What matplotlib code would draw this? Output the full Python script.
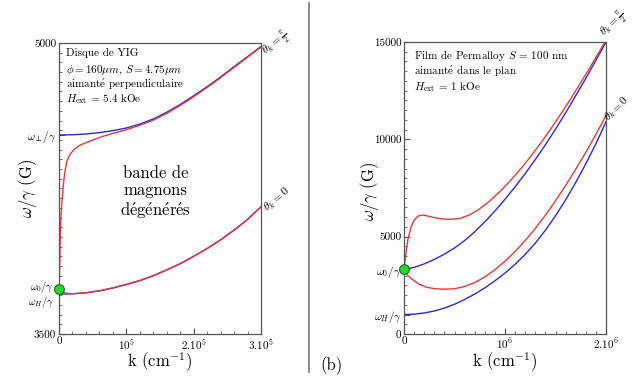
import numpy as np
import matplotlib
matplotlib.use("Agg")
import matplotlib.pyplot as plt
from matplotlib.ticker import MultipleLocator
from matplotlib.lines import Line2D

plt.rcParams.update({'font.family': ['cmr10', 'DejaVu Serif'],
                     'mathtext.fontset': 'cm',
                     'axes.unicode_minus': False,
                     'axes.linewidth': 0.9,
                     'axes.edgecolor': '#555555'})

BLUE = '#2a2ad0'
RED = '#e03a3a'
E = r'$\mathrm{\acute{e}}$'  # e accent aigu in Computer Modern

# ------------------------------
# (a) YIG disk, k in units of 1e5 cm^-1, omega/gamma in G
# ------------------------------
yig_w0 = 3732
yig_wH = 3706
yig_wperp = 4526

yig_k_low_blue = [0, 0.2, 0.4, 0.6, 0.8, 1.0, 1.2, 1.4, 1.6, 1.8, 2.0, 2.2, 2.4, 2.6, 2.8, 3.0]
yig_low_blue = [3706, 3707, 3712, 3722, 3737, 3755, 3775, 3800, 3830, 3862, 3900, 3940, 3985, 4035, 4090, 4155]
yig_k_low_red = [0, 0.03, 0.08, 0.15, 0.2, 0.4, 0.6, 0.8, 1.0, 1.2, 1.4, 1.6, 1.8, 2.0, 2.2, 2.4, 2.6, 2.8, 3.0]
yig_low_red = [3732, 3720, 3712, 3709, 3708, 3713, 3723, 3738, 3756, 3776, 3801, 3831, 3863, 3901, 3941, 3986, 4036, 4091, 4156]

yig_k_up_blue = [0, 0.2, 0.4, 0.6, 0.8, 1.0, 1.2, 1.4, 1.6, 1.8, 2.0, 2.2, 2.4, 2.6, 2.8, 3.0]
yig_up_blue = [4526, 4527, 4531, 4538, 4548, 4562, 4582, 4608, 4643, 4683, 4728, 4775, 4825, 4878, 4930, 4982]
yig_k_up_red = [0, 0.005, 0.01, 0.015, 0.02, 0.03, 0.045, 0.064, 0.085, 0.114, 0.16, 0.24,
                0.33, 0.435, 0.634, 0.83, 1.0, 1.2, 1.4, 1.6, 1.8, 2.0, 2.2, 2.4, 2.6, 2.8, 3.0]
yig_up_red = [3732, 3780, 3850, 3950, 4030, 4110, 4190, 4268, 4330, 4388, 4425, 4457,
              4476, 4491, 4517, 4537, 4553, 4576, 4602, 4637, 4678, 4723, 4771, 4821, 4874, 4927, 4979]

# ------------------------------
# (b) Permalloy film, k in units of 1e6 cm^-1
# ------------------------------
py_w0 = 3324
py_wH = 1000

py_k_up_blue = [0, 0.1, 0.2, 0.3, 0.4, 0.5, 0.6, 0.7, 0.8, 0.9, 1.0, 1.1, 1.2, 1.3, 1.4, 1.5, 1.6, 1.7, 1.8, 1.9, 2.0]
py_up_blue = [3324, 3420, 3600, 3830, 4100, 4420, 4800, 5250, 5760, 6320, 6920, 7560, 8240, 8960, 9720,
              10520, 11360, 12240, 13130, 14060, 15000]
py_k_up_red = [0, 0.02, 0.04, 0.07, 0.1, 0.14, 0.18, 0.22, 0.3, 0.38, 0.455, 0.55, 0.65, 0.75, 0.85, 0.95,
               1.05, 1.15, 1.25, 1.35, 1.45, 1.55, 1.65, 1.75, 1.85, 1.95, 2.0]
py_up_red = [3324, 4200, 4900, 5500, 5850, 6060, 6110, 6080, 5980, 5910, 5890, 5930, 6120, 6430, 6840, 7320,
             7860, 8450, 9090, 9780, 10510, 11280, 12080, 12910, 13770, 14650, 15100]

py_k_low_blue = [0, 0.1, 0.2, 0.3, 0.4, 0.5, 0.6, 0.7, 0.8, 0.9, 1.0, 1.1, 1.2, 1.3, 1.4, 1.5, 1.6, 1.7, 1.8, 1.9, 2.0]
py_low_blue = [1000, 1020, 1080, 1180, 1330, 1530, 1770, 2050, 2370, 2730, 3130, 3580, 4090, 4670, 5330,
               6070, 6890, 7780, 8740, 9770, 10900]
py_k_low_red = [0, 0.03, 0.06, 0.092, 0.15, 0.225, 0.3, 0.39, 0.5, 0.6, 0.7, 0.8, 0.9, 1.0, 1.1,
                1.2, 1.3, 1.4, 1.5, 1.6, 1.7, 1.8, 1.9, 2.0]
py_low_red = [3324, 3050, 2900, 2774, 2560, 2400, 2330, 2300, 2325, 2440, 2640, 2930, 3300, 3740, 4240,
              4800, 5420, 6100, 6840, 7630, 8460, 9330, 10250, 11230]

fig = plt.figure(figsize=(6.34, 3.82), dpi=100)
axa = fig.add_axes([59 / 634, 1 - 334 / 382, 202 / 634, 291 / 382])
axb = fig.add_axes([404 / 634, 1 - 334 / 382, 202 / 634, 292 / 382])

for ax in (axa, axb):
    ax.tick_params(which='both', direction='in', top=False, right=False, labelsize=8,
                   color='#555555', pad=2)
    ax.tick_params(which='major', length=4)
    ax.tick_params(which='minor', length=2)

theta_kw = dict(fontsize=8.5, ha='left', va='baseline', rotation_mode='anchor', clip_on=False)

# ------------------------------
# panel (a)
# ------------------------------
axa.plot(yig_k_low_blue, yig_low_blue, color=BLUE, lw=1)
axa.plot(yig_k_low_red, yig_low_red, color=RED, lw=1)
axa.plot(yig_k_up_blue, yig_up_blue, color=BLUE, lw=1)
axa.plot(yig_k_up_red, yig_up_red, color=RED, lw=1)
axa.plot([0], [yig_w0], 'o', ms=7, mfc='#22dd22', mec='#226622', mew=0.8, clip_on=False, zorder=5)
axa.set_xlim(0, 3)
axa.set_ylim(3500, 5000)
axa.set_xticks([0, 1, 2, 3])
axa.set_xticklabels(['0', r'10$^5$', r'2.10$^5$', r'3.10$^5$'])
axa.set_yticks([3500, yig_wperp, 5000])
axa.set_yticklabels(['3500', r'$\omega_\perp/\gamma$', '5000'])
axa.xaxis.set_minor_locator(MultipleLocator(0.2))
axa.yaxis.set_minor_locator(MultipleLocator(50))
axa.text(-0.08, yig_w0 + 12, r'$\omega_0/\gamma$', ha='right', va='center', fontsize=7.5)
axa.text(-0.08, yig_wH - 42, r'$\omega_H/\gamma$', ha='right', va='center', fontsize=7.5)
axa.set_xlabel(r'k (cm$^{-1}$)', fontsize=12, labelpad=-1)
axa.set_ylabel(r'$\omega/\gamma$ (G)', fontsize=12)
axa.yaxis.set_label_coords(-0.1, 0.5)
axa.text(0.1, 4948, 'Disque de YIG', fontsize=8, va='center')
axa.text(0.1, 4861, r'$\phi = 160\mu m$, $S = 4.75\mu m$', fontsize=8, va='center')
axa.text(0.1, 4789, 'aimant' + E + ' perpendiculaire', fontsize=8, va='center')
axa.text(0.1, 4710, r'$H_{\rm ext}$ = 5.4 kOe', fontsize=8, va='center')
axa.text(1.43, 4225, 'bande de\nmagnons\nd' + E + 'g' + E + 'n' + E + 'r' + E + 's',
         fontsize=12, ha='center', va='center', linespacing=1.15)
axa.text(3.08, 4935, r'$\theta_k = \frac{\pi}{2}$', rotation=40, **theta_kw)
axa.text(3.09, 4130, r'$\theta_k = 0$', rotation=40, **theta_kw)

# ------------------------------
# panel (b)
# ------------------------------
axb.plot(py_k_low_blue, py_low_blue, color=BLUE, lw=1)
axb.plot(py_k_low_red, py_low_red, color=RED, lw=1)
axb.plot(py_k_up_blue, py_up_blue, color=BLUE, lw=1)
axb.plot(py_k_up_red, py_up_red, color=RED, lw=1)
axb.plot([0], [py_w0], 'o', ms=7, mfc='#22dd22', mec='#226622', mew=0.8, clip_on=False, zorder=5)
axb.set_xlim(0, 2)
axb.set_ylim(0, 15000)
axb.set_xticks([0, 1, 2])
axb.set_xticklabels(['0', r'10$^6$', r'2.10$^6$'])
axb.set_yticks([0, py_wH, py_w0, 5000, 10000, 15000])
axb.set_yticklabels(['0', r'$\omega_H/\gamma$', r'$\omega_0/\gamma$', '5000', '10000', '15000'])
axb.xaxis.set_minor_locator(MultipleLocator(0.1))
axb.yaxis.set_minor_locator(MultipleLocator(500))
axb.set_xlabel(r'k (cm$^{-1}$)', fontsize=12, labelpad=-1)
axb.set_ylabel(r'$\omega/\gamma$ (G)', fontsize=12)
axb.yaxis.set_label_coords(-0.115, 0.49)
axb.text(0.099, 14332, r'Film de Permalloy $S$ = 100 nm', fontsize=8, va='center')
axb.text(0.099, 13526, 'aimant' + E + ' dans le plan', fontsize=8, va='center')
axb.text(0.099, 12705, r'$H_{\rm ext}$ = 1 kOe', fontsize=8, va='center')
axb.text(1.985, 15300, r'$\theta_k = \frac{\pi}{2}$', rotation=45, **theta_kw)
axb.text(2.025, 10950, r'$\theta_k = 0$', rotation=45, fontsize=8, ha='left', va='baseline',
         rotation_mode='anchor', clip_on=False)

fig.add_artist(Line2D([309 / 634, 309 / 634], [1 - 3 / 382, 1 - 372 / 382], color='#777777', lw=1.2))
fig.text(320 / 634, 1 - 366 / 382, '(b)', fontsize=12, va='center')

fig.savefig('out.png', dpi=100)
